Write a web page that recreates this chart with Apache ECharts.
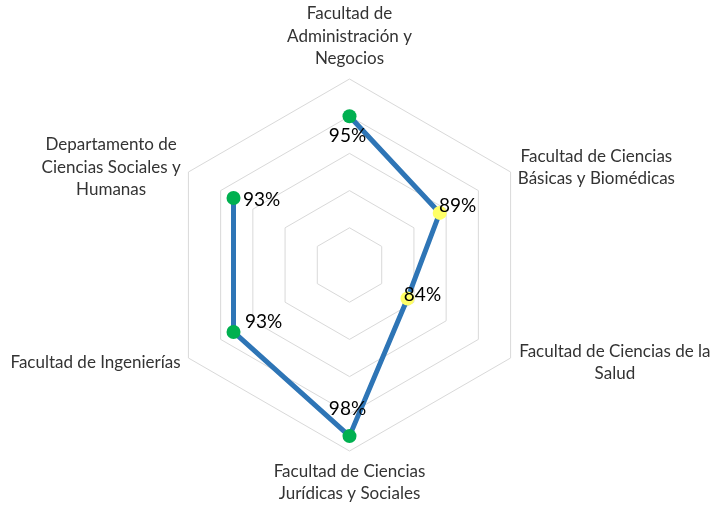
<!DOCTYPE html>
<html>
<head>
<meta charset="utf-8">
<script src="https://cdn.jsdelivr.net/npm/echarts@6/dist/echarts.min.js"></script>
<style>
html,body{margin:0;padding:0;background:#fff;}
#c{width:710px;height:508px;}
</style>
</head>
<body>
<div id="c"></div>
<script>
// Categories in clockwise order starting at the top
var categories = [
  'Facultad de\nAdministración y\nNegocios',
  'Facultad de Ciencias\nBásicas y Biomédicas',
  'Facultad de Ciencias de la\nSalud',
  'Facultad de Ciencias\nJurídicas y Sociales',
  'Facultad de Ingenierías',
  'Departamento de\nCiencias Sociales y\nHumanas'
];
var values = [95, 89, 84, 98, 93, 93];
var axisMin = 75, axisMax = 100, splitCount = 5;

// styles (not data)
var GREEN = '#00b050', YELLOW = '#ffff66';
var pointColors = [GREEN, YELLOW, YELLOW, GREEN, GREEN, GREEN];
var labelOffsets = [[-2, 20], [18, -7], [15, -4], [-2, -27], [30, -10], [28, 2]];
var nameBoxWidths = [0, 156, 193, 0, 0, 139];

var FONT = 'Lato';
var NAME_SIZE = 17, NAME_LH = 22.5, NAME_COLOR = '#333333';

var rich = {};
nameBoxWidths.forEach(function (w, i) {
  var s = { fontFamily: FONT, fontSize: NAME_SIZE, lineHeight: NAME_LH, color: NAME_COLOR, align: 'center' };
  if (w) s.width = w;
  rich['n' + i] = s;
});

// radar draws counter-clockwise: reorder indicators
var radarOrder = [0, 5, 4, 3, 2, 1];
var indicators = radarOrder.map(function (i) {
  return { name: categories[i], min: axisMin, max: axisMax };
});

var lineData = values.map(function (v, i) {
  return {
    value: [v, i],
    itemStyle: { color: pointColors[i] },
    label: { offset: labelOffsets[i] }
  };
});
// close the loop
lineData.push({ value: [values[0], 0], symbol: 'none', label: { show: false } });

var chart = echarts.init(document.getElementById('c'));
chart.setOption({
  animation: false,
  backgroundColor: '#ffffff',
  radar: {
    center: [349.5, 265],
    radius: 186,
    startAngle: 90,
    shape: 'polygon',
    splitNumber: splitCount,
    indicator: indicators,
    nameGap: 9,
    axisName: {
      color: NAME_COLOR,
      fontFamily: FONT,
      fontSize: NAME_SIZE,
      lineHeight: NAME_LH,
      formatter: function (name) {
        var idx = categories.indexOf(name);
        return name.split('\n').map(function (l) { return '{n' + idx + '|' + l + '}'; }).join('\n');
      },
      rich: rich
    },
    axisLine: { show: false },
    axisTick: { show: false },
    axisLabel: { show: false },
    splitArea: { show: false },
    splitLine: { lineStyle: { color: '#d9d9d9', width: 1 } }
  },
  polar: { center: [349.5, 265], radius: 186 },
  angleAxis: {
    type: 'category',
    data: categories,
    startAngle: 90,
    clockwise: true,
    boundaryGap: false,
    show: false
  },
  radiusAxis: { type: 'value', min: axisMin, max: axisMax, show: false },
  series: [{
    type: 'line',
    coordinateSystem: 'polar',
    data: lineData,
    symbol: 'circle',
    symbolSize: 14,
    lineStyle: { color: '#2e75b6', width: 5 },
    itemStyle: { borderWidth: 0 },
    label: {
      show: true,
      position: 'inside',
      color: '#000000',
      fontFamily: FONT,
      fontSize: 19,
      formatter: function (p) { return p.value[0] + '%'; }
    },
    z: 3
  }]
});
</script>
</body>
</html>
